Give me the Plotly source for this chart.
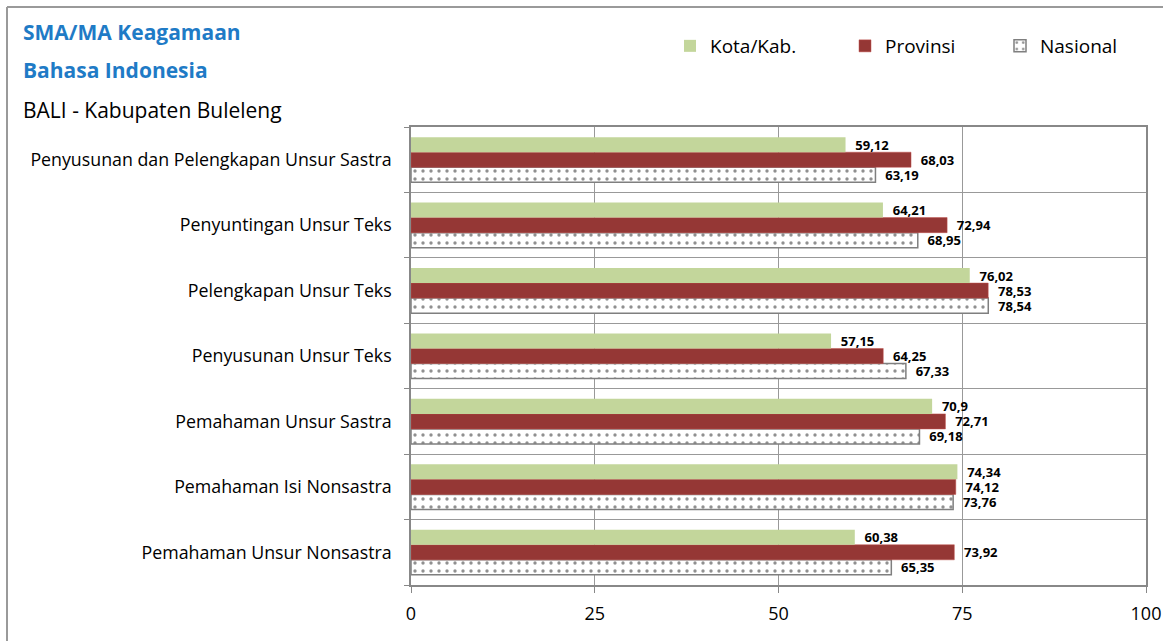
import plotly.graph_objects as go

# Categories listed bottom to top (Plotly draws the first category at the bottom)
categories = [
    "Pemahaman Unsur Nonsastra",
    "Pemahaman Isi Nonsastra",
    "Pemahaman Unsur Sastra",
    "Penyusunan Unsur Teks",
    "Pelengkapan Unsur Teks",
    "Penyuntingan Unsur Teks",
    "Penyusunan dan Pelengkapan Unsur Sastra",
]
kota_kab = [60.38, 74.34, 70.9, 57.15, 76.02, 64.21, 59.12]
provinsi = [73.92, 74.12, 72.71, 64.25, 78.53, 72.94, 68.03]
nasional = [65.35, 73.76, 69.18, 67.33, 78.54, 68.95, 63.19]
x_ticks = [0, 25, 50, 75, 100]

FONT = "'Open Sans', 'Noto Sans', sans-serif"
W, H = 1163, 641
L, R, T, B = 411, 17, 127, 56


def fmt(vals):
    return [str(v).replace(".", ",") for v in vals]


def px_x(p):
    return (p - L) / (W - L - R)


def px_y(p):
    return (H - B - p) / (H - T - B)


label_font = dict(family=FONT, size=13, color="black", weight="bold")
bar_text = dict(textposition="outside", textfont=label_font,
                constraintext="none", cliponaxis=False,
                texttemplate="  %{text}")

fig = go.Figure()
# Grouped horizontal bars are stacked from the bottom: first trace lowest.
fig.add_trace(go.Bar(
    y=categories, x=nasional, name="Nasional", orientation="h",
    marker=dict(color="white", line=dict(color="#7f7f7f", width=1.5),
                pattern=dict(shape=".", fgcolor="#222222", bgcolor="white",
                             size=8, solidity=0.14)),
    text=fmt(nasional), legend="legend3", **bar_text,
))
fig.add_trace(go.Bar(
    y=categories, x=provinsi, name="Provinsi", orientation="h",
    marker=dict(color="#953735", line=dict(color="#c0504d", width=0.5)),
    text=fmt(provinsi), legend="legend2", **bar_text,
))
fig.add_trace(go.Bar(
    y=categories, x=kota_kab, name="Kota/Kab.", orientation="h",
    marker=dict(color="#c3d69b", line=dict(width=0)),
    text=fmt(kota_kab), legend="legend", **bar_text,
))

legend_common = dict(orientation="h", yanchor="middle", xanchor="left",
                     font=dict(family=FONT, size=19), itemwidth=30,
                     bgcolor="rgba(0,0,0,0)", y=px_y(46))

fig.update_layout(
    width=W, height=H,
    margin=dict(l=L, r=R, t=T, b=B, autoexpand=False),
    paper_bgcolor="white", plot_bgcolor="white",
    barmode="group", bargap=0.31, bargroupgap=0,
    font=dict(family=FONT, size=17, color="black"),
    showlegend=True,
    legend=dict(x=px_x(670), **legend_common),
    legend2=dict(x=px_x(845), **legend_common),
    legend3=dict(x=px_x(1000), **legend_common),
    xaxis=dict(range=[0, 100], tickvals=x_ticks, ticks="outside", ticklen=6,
               tickcolor="#888888", showgrid=True, gridcolor="#999999",
               gridwidth=1, zeroline=False, showline=True, linecolor="#888888",
               linewidth=1.5, mirror=True, tickfont=dict(size=18),
               ticklabelstandoff=6),
    yaxis=dict(tickson="boundaries", ticks="outside", ticklen=5,
               tickcolor="#888888", showgrid=True, gridcolor="#999999",
               gridwidth=1, showline=True, linecolor="#888888", linewidth=1.5,
               mirror=True, tickfont=dict(size=17.8), ticklabelstandoff=14),
    annotations=[
        dict(text="<b>SMA/MA Keagamaan</b>", xref="paper", yref="paper",
             x=px_x(21), y=px_y(32), xanchor="left", yanchor="middle",
             showarrow=False, font=dict(size=21, color="#1f7bc6")),
        dict(text="<b>Bahasa Indonesia</b>", xref="paper", yref="paper",
             x=px_x(21), y=px_y(70), xanchor="left", yanchor="middle",
             showarrow=False, font=dict(size=21, color="#1f7bc6")),
        dict(text="BALI - Kabupaten Buleleng", xref="paper", yref="paper",
             x=px_x(21), y=px_y(110), xanchor="left", yanchor="middle",
             showarrow=False, font=dict(size=21, color="black")),
    ],
    shapes=[
        dict(type="line", xref="paper", yref="paper",
             x0=px_x(7), x1=px_x(7), y0=px_y(7), y1=px_y(H + 5),
             line=dict(color="#9a9a9a", width=2)),
        dict(type="line", xref="paper", yref="paper",
             x0=px_x(7), x1=px_x(W + 5), y0=px_y(7), y1=px_y(7),
             line=dict(color="#9a9a9a", width=2)),
    ],
)

fig.write_html("out.html")
